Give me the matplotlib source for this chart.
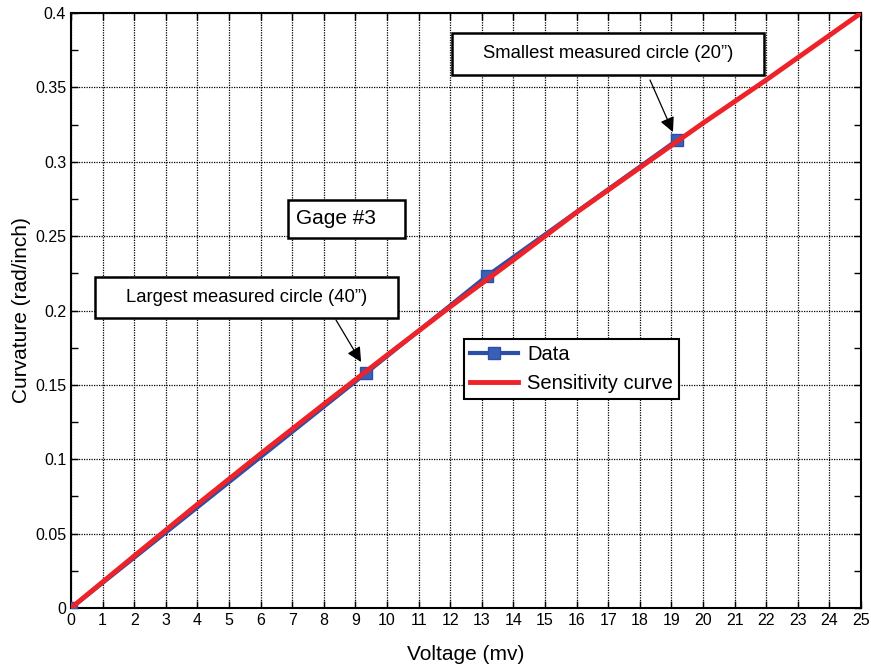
import numpy as np
import matplotlib
matplotlib.use('Agg')
import matplotlib.pyplot as plt
from matplotlib.ticker import MultipleLocator
from matplotlib.patches import Rectangle

plt.rcParams['font.family'] = ['Liberation Sans', 'DejaVu Sans']

# measured data
volt_data = [0, 9.34, 13.16, 19.18]
curv_data = [0, 0.158, 0.2232, 0.3146]

# sensitivity curve
volt_fit = [0, 2, 4, 6, 8, 10, 12, 14, 16, 18, 20, 22, 24, 25]
curv_fit = [0, 0.035, 0.0697, 0.1037, 0.137, 0.170, 0.2025, 0.234, 0.266, 0.296, 0.326, 0.355, 0.385, 0.4]

W, H = 871, 670
fig = plt.figure(figsize=(W / 100, H / 100), dpi=100)
ax = fig.add_axes([0.0815, 0.0925, 0.907, 0.888])

ax.plot(volt_data, curv_data, color='#2b4fa8', lw=3, marker='s', ms=8,
        mfc='#3a5fb5', mec='#2b4fa8', label='Data', zorder=3)
ax.plot(volt_fit, curv_fit, color='#ee2229', lw=3.5, label='Sensitivity curve', zorder=4)

ax.set_xlim(0, 25)
ax.set_ylim(0, 0.4)
ax.xaxis.set_major_locator(MultipleLocator(1))
ax.set_yticks(np.arange(0, 0.401, 0.05))
ax.set_yticklabels(['0', '0.05', '0.1', '0.15', '0.2', '0.25', '0.3', '0.35', '0.4'])
ax.yaxis.set_minor_locator(MultipleLocator(0.025))
ax.tick_params(which='both', direction='in', top=True, right=True, labelsize=11.5, width=1, length=5)
ax.grid(True, which='major', color='black', linestyle=(0, (1, 1)), lw=0.9)
for s in ax.spines.values():
    s.set_linewidth(1.5)

ax.set_xlabel('Voltage (mv)', fontsize=15, labelpad=12)
ax.set_ylabel('Curvature (rad/inch)', fontsize=15, labelpad=3)


# text boxes, placed in pixel positions of the figure
def box(x0, y0, x1, y1, txt, size, left=None):
    ax.add_patch(Rectangle((x0 / W, 1 - y1 / H), (x1 - x0) / W, (y1 - y0) / H,
                           transform=fig.transFigure, fc='white', ec='black', lw=1.8,
                           zorder=6, clip_on=False))
    if left is None:
        ax.text((x0 + x1) / 2 / W, 1 - (y0 + y1) / 2 / H, txt, fontsize=size,
                ha='center', va='center', transform=fig.transFigure, zorder=7)
    else:
        ax.text(left / W, 1 - (y0 + y1) / 2 / H, txt, fontsize=size,
                ha='left', va='center', transform=fig.transFigure, zorder=7)


box(452, 33, 764, 75, 'Smallest measured circle (20\u201d)', 13.3)
box(95, 277, 398, 318, 'Largest measured circle (40\u201d)', 13.3)
box(288, 200, 405, 238, 'Gage #3', 15, left=296)

arrow = dict(arrowstyle='-|>', color='black', lw=0.9, mutation_scale=22, shrinkA=0, shrinkB=0)
ax.annotate('', xy=(19.05, 0.32), xytext=(650 / W, 1 - 80 / H), textcoords='figure fraction',
            arrowprops=arrow, zorder=8)
ax.annotate('', xy=(9.18, 0.1654), xytext=(336 / W, 1 - 320 / H), textcoords='figure fraction',
            arrowprops=arrow, zorder=8)

leg = ax.legend(loc='upper left', bbox_to_anchor=(0.497, 0.452), fontsize=14.5,
                fancybox=False, edgecolor='black', framealpha=1, borderpad=0.3,
                handlelength=2.4, labelspacing=0.5, handletextpad=0.45, borderaxespad=0)
leg.get_frame().set_linewidth(1.5)

plt.savefig('out.png', dpi=100)
